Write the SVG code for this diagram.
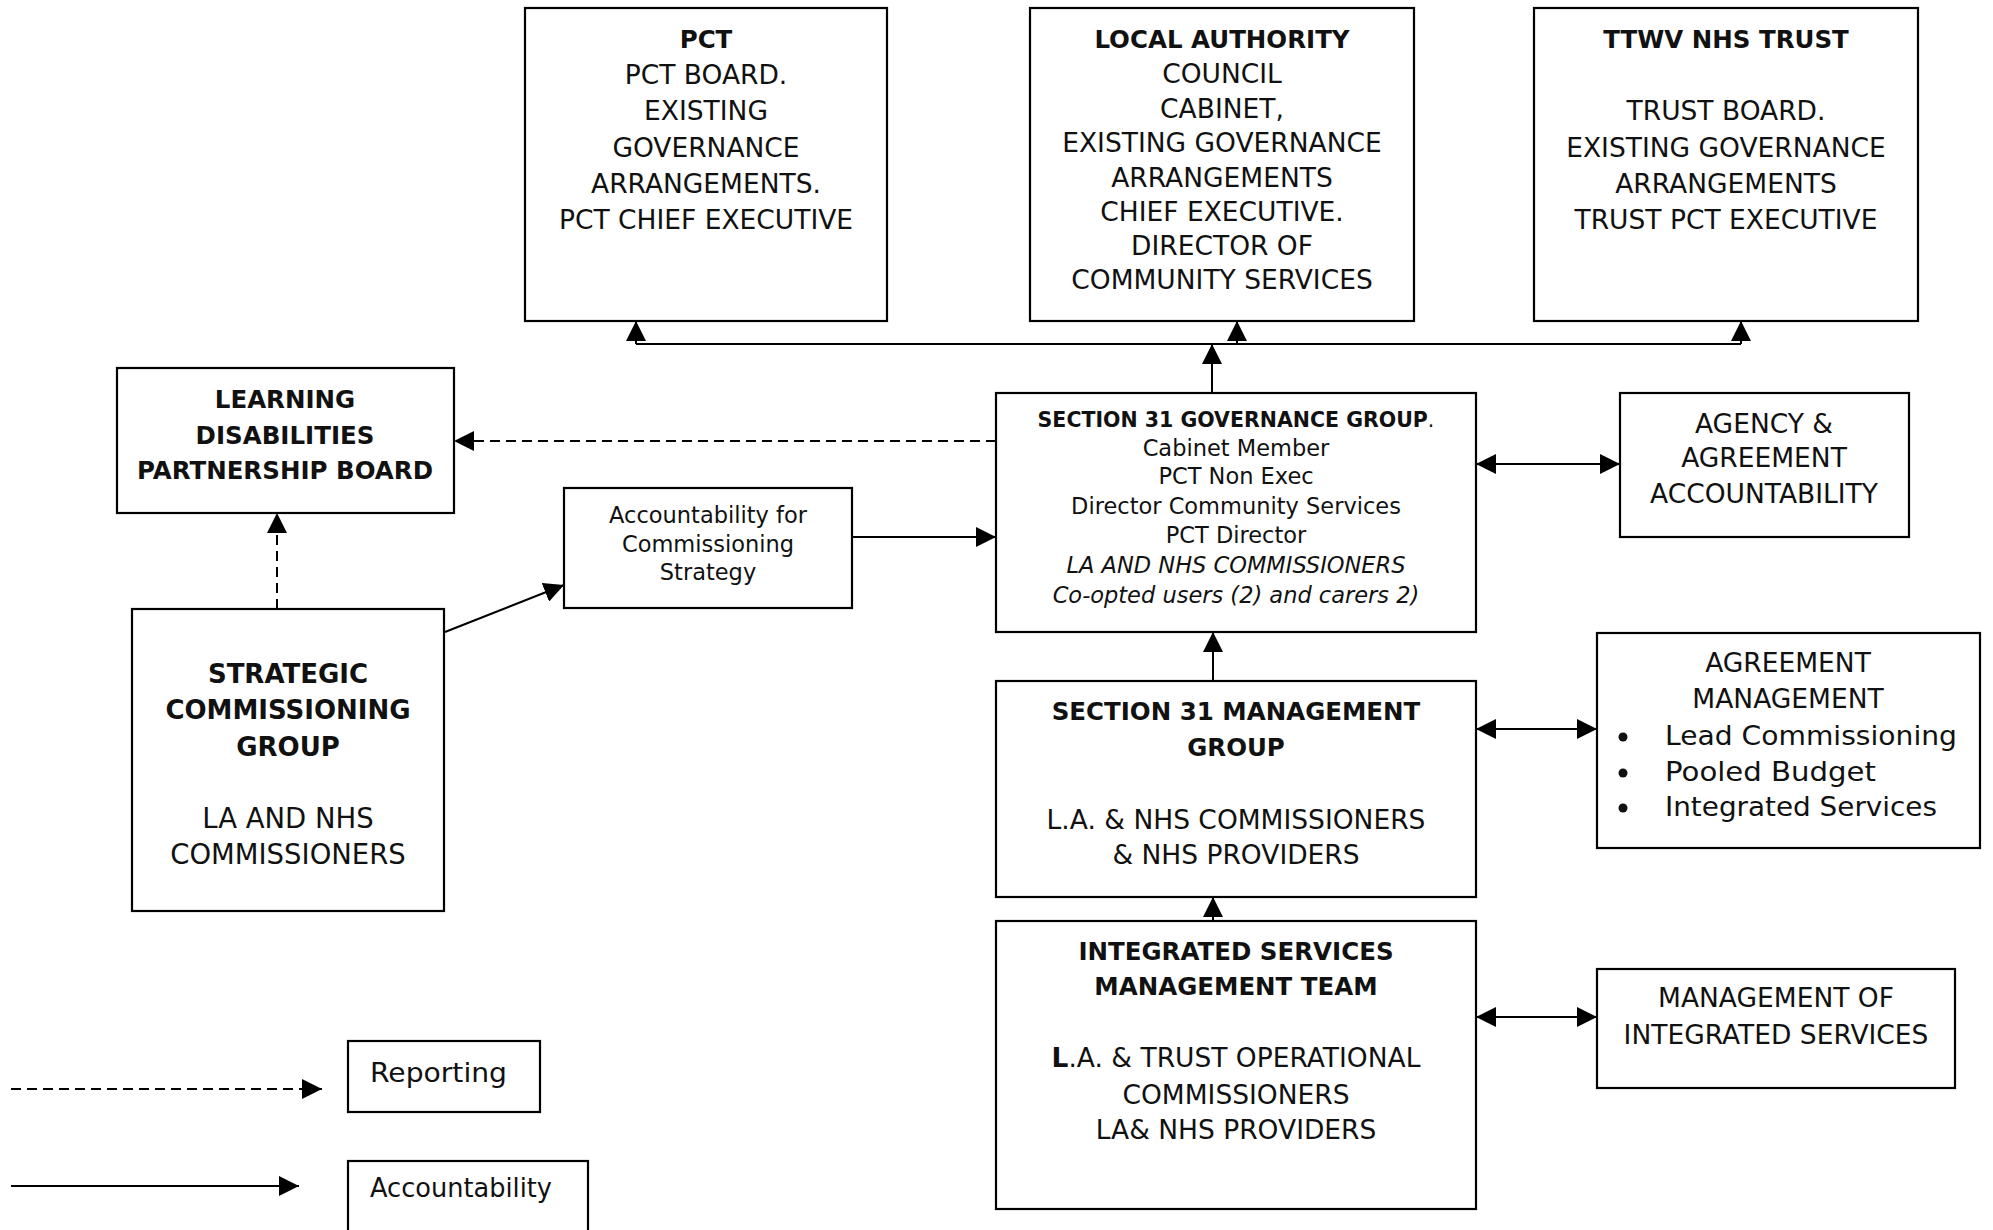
<svg xmlns="http://www.w3.org/2000/svg" width="1993" height="1230" viewBox="0 0 1993 1230">
<style>
.box{fill:#fff;stroke:#000;stroke-width:2.2}
text{font-family:"DejaVu Sans","Liberation Sans",sans-serif;fill:#111;text-anchor:middle}
.h{font-weight:bold;font-size:24.5px}
.r{font-size:26.5px}
.s{font-size:22.5px}
.hs{font-weight:bold;font-size:20.5px}
.i{font-style:italic}
.st{font-size:26.5px;text-anchor:start}
.ln{fill:none;stroke:#000;stroke-width:2}
.dash{stroke-dasharray:10 6}
</style>
<defs>
<marker id="ah" markerUnits="userSpaceOnUse" markerWidth="20" markerHeight="20" refX="20" refY="10" orient="auto-start-reverse" viewBox="0 0 20 20">
<path d="M0,0 L20,10 L0,20 z" fill="#000"/>
</marker>
</defs>
<rect width="1993" height="1230" fill="#fff"/>

<g id="connectors">
<path class="ln" d="M636,344 H1741"/>
<path class="ln" d="M636,344 V321" marker-end="url(#ah)"/>
<path class="ln" d="M1237,344 V321" marker-end="url(#ah)"/>
<path class="ln" d="M1741,344 V321" marker-end="url(#ah)"/>
<path class="ln" d="M1212,393 V344" marker-end="url(#ah)"/>
<path class="ln dash" d="M996,441 H454" marker-end="url(#ah)"/>
<path class="ln dash" d="M277,609 V513" marker-end="url(#ah)"/>
<path class="ln" d="M445,632 L564,585" marker-end="url(#ah)"/>
<path class="ln" d="M852,537 H996" marker-end="url(#ah)"/>
<path class="ln" d="M1476,464 H1620" marker-start="url(#ah)" marker-end="url(#ah)"/>
<path class="ln" d="M1213,681 V632" marker-end="url(#ah)"/>
<path class="ln" d="M1476,729 H1597" marker-start="url(#ah)" marker-end="url(#ah)"/>
<path class="ln" d="M1213,921 V897" marker-end="url(#ah)"/>
<path class="ln" d="M1476,1017 H1597" marker-start="url(#ah)" marker-end="url(#ah)"/>
<path class="ln dash" d="M11,1089 H322" marker-end="url(#ah)"/>
<path class="ln" d="M11,1186 H299" marker-end="url(#ah)"/>
</g>

<g id="pct">
<rect class="box" x="525" y="8" width="362" height="313"/>
<text class="h" x="706" y="48">PCT</text>
<text class="r" x="706" y="84">PCT BOARD.</text>
<text class="r" x="706" y="120">EXISTING</text>
<text class="r" x="706" y="157">GOVERNANCE</text>
<text class="r" x="706" y="193">ARRANGEMENTS.</text>
<text class="r" x="706" y="229">PCT CHIEF EXECUTIVE</text>
</g>

<g id="local-authority">
<rect class="box" x="1030" y="8" width="384" height="313"/>
<text class="h" x="1222" y="48">LOCAL AUTHORITY</text>
<text class="r" x="1222" y="83">COUNCIL</text>
<text class="r" x="1222" y="118">CABINET,</text>
<text class="r" x="1222" y="152">EXISTING GOVERNANCE</text>
<text class="r" x="1222" y="187">ARRANGEMENTS</text>
<text class="r" x="1222" y="221">CHIEF EXECUTIVE.</text>
<text class="r" x="1222" y="255">DIRECTOR OF</text>
<text class="r" x="1222" y="289">COMMUNITY SERVICES</text>
</g>

<g id="ttwv">
<rect class="box" x="1534" y="8" width="384" height="313"/>
<text class="h" x="1726" y="48">TTWV NHS TRUST</text>
<text class="r" x="1726" y="120">TRUST BOARD.</text>
<text class="r" x="1726" y="157">EXISTING GOVERNANCE</text>
<text class="r" x="1726" y="193">ARRANGEMENTS</text>
<text class="r" x="1726" y="229">TRUST PCT EXECUTIVE</text>
</g>

<g id="ldpb">
<rect class="box" x="117" y="368" width="337" height="145"/>
<text class="h" x="285" y="408">LEARNING</text>
<text class="h" x="285" y="444">DISABILITIES</text>
<text class="h" x="285" y="479">PARTNERSHIP BOARD</text>
</g>

<g id="acs">
<rect class="box" x="564" y="488" width="288" height="120"/>
<text class="s" x="708" y="523">Accountability for</text>
<text class="s" x="708" y="552">Commissioning</text>
<text class="s" x="708" y="580">Strategy</text>
</g>

<g id="scg">
<rect class="box" x="132" y="609" width="312" height="302"/>
<text class="h" x="288" y="683" style="font-size:26px">STRATEGIC</text>
<text class="h" x="288" y="719" style="font-size:26px">COMMISSIONING</text>
<text class="h" x="288" y="756" style="font-size:26px">GROUP</text>
<text class="r" x="288" y="828" style="font-size:27.5px">LA AND NHS</text>
<text class="r" x="288" y="864" style="font-size:27.5px">COMMISSIONERS</text>
</g>

<g id="gov">
<rect class="box" x="996" y="393" width="480" height="239"/>
<text class="hs" x="1236" y="427">SECTION 31 GOVERNANCE GROUP<tspan font-weight="normal">.</tspan></text>
<text class="s" x="1236" y="456">Cabinet Member</text>
<text class="s" x="1236" y="484">PCT Non Exec</text>
<text class="s" x="1236" y="514">Director Community Services</text>
<text class="s" x="1236" y="543">PCT Director</text>
<text class="s i" x="1236" y="573">LA AND NHS COMMISSIONERS</text>
<text class="s i" x="1236" y="603">Co-opted users (2) and carers 2)</text>
</g>

<g id="agency">
<rect class="box" x="1620" y="393" width="289" height="144"/>
<text class="r" x="1764" y="433">AGENCY &amp;</text>
<text class="r" x="1764" y="467">AGREEMENT</text>
<text class="r" x="1764" y="503">ACCOUNTABILITY</text>
</g>

<g id="mgmt">
<rect class="box" x="996" y="681" width="480" height="216"/>
<text class="h" x="1236" y="720">SECTION 31 MANAGEMENT</text>
<text class="h" x="1236" y="756">GROUP</text>
<text class="r" x="1236" y="829">L.A. &amp; NHS COMMISSIONERS</text>
<text class="r" x="1236" y="864">&amp; NHS PROVIDERS</text>
</g>

<g id="agreement">
<rect class="box" x="1597" y="633" width="383" height="215"/>
<text class="r" x="1788" y="672">AGREEMENT</text>
<text class="r" x="1788" y="708">MANAGEMENT</text>
<circle cx="1623" cy="737" r="4.5" fill="#111"/>
<circle cx="1623" cy="773" r="4.5" fill="#111"/>
<circle cx="1623" cy="808" r="4.5" fill="#111"/>
<text class="st" x="1665" y="745" textLength="292" lengthAdjust="spacingAndGlyphs">Lead Commissioning</text>
<text class="st" x="1665" y="781" textLength="211" lengthAdjust="spacingAndGlyphs">Pooled Budget</text>
<text class="st" x="1665" y="816" textLength="272" lengthAdjust="spacingAndGlyphs">Integrated Services</text>
</g>

<g id="ismt">
<rect class="box" x="996" y="921" width="480" height="288"/>
<text class="h" x="1236" y="960">INTEGRATED SERVICES</text>
<text class="h" x="1236" y="995">MANAGEMENT TEAM</text>
<text class="r" x="1236" y="1067"><tspan font-weight="bold">L</tspan>.A. &amp; TRUST OPERATIONAL</text>
<text class="r" x="1236" y="1104">COMMISSIONERS</text>
<text class="r" x="1236" y="1139">LA&amp; NHS PROVIDERS</text>
</g>

<g id="mois">
<rect class="box" x="1597" y="969" width="358" height="119"/>
<text class="r" x="1776" y="1007">MANAGEMENT OF</text>
<text class="r" x="1776" y="1044">INTEGRATED SERVICES</text>
</g>

<g id="legend-reporting">
<rect class="box" x="348" y="1041" width="192" height="71"/>
<text class="st" x="370" y="1082" textLength="137" lengthAdjust="spacingAndGlyphs">Reporting</text>
</g>

<g id="legend-accountability">
<rect class="box" x="348" y="1161" width="240" height="80"/>
<text class="st" x="370" y="1197" textLength="182" lengthAdjust="spacingAndGlyphs">Accountability</text>
</g>
</svg>
